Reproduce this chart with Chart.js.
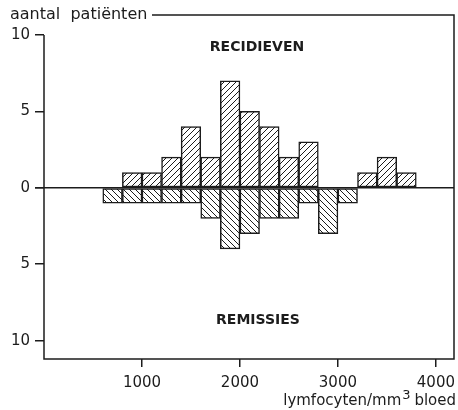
<!DOCTYPE html>
<html>
<head>
<meta charset="utf-8">
<script src="https://cdn.jsdelivr.net/npm/chart.js@4"></script>
<style>
  body { margin: 0; background: #fff; }
  #wrap { width: 458px; height: 410px; }
</style>
</head>
<body>
<div id="wrap"><canvas id="histChart" width="458" height="410"></canvas></div>
<script>
// bin centres (lymfocyten/mm3), bins 200 wide from 600 to 3800
const binCenters = [700, 900, 1100, 1300, 1500, 1700, 1900, 2100, 2300, 2500, 2700, 2900, 3100, 3300, 3500, 3700];
const recidieven = [0, 1, 1, 2, 4, 2, 7, 5, 4, 2, 3, 0, 0, 1, 2, 1];
const remissies  = [1, 1, 1, 1, 1, 2, 4, 3, 2, 2, 1, 3, 1, 0, 0, 0];
const yTicks = [-10, -5, 0, 5, 10];
const xTicks = [1000, 2000, 3000, 4000];

const ink = '#1c1c1c';
const font = 'DejaVu Sans';

function hatch(dir) {
    const s = 6;
    const c = document.createElement('canvas');
    c.width = s; c.height = s;
    const g = c.getContext('2d');
    g.fillStyle = '#fff';
    g.fillRect(0, 0, s, s);
    g.strokeStyle = ink;
    g.lineWidth = 1;
    g.beginPath();
    if (dir > 0) {
        g.moveTo(0, s); g.lineTo(s, 0);
        g.moveTo(-1, 1); g.lineTo(1, -1);
        g.moveTo(s - 1, s + 1); g.lineTo(s + 1, s - 1);
    } else {
        g.moveTo(0, 0); g.lineTo(s, s);
        g.moveTo(-1, s - 1); g.lineTo(1, s + 1);
        g.moveTo(s - 1, -1); g.lineTo(s + 1, 1);
    }
    g.stroke();
    return g.createPattern(c, 'repeat');
}

const upPoints = [];
const downPoints = [];
for (let i = 0; i < binCenters.length; i++) {
    if (recidieven[i] > 0) upPoints.push({ x: binCenters[i], y: recidieven[i] });
    if (remissies[i] > 0) downPoints.push({ x: binCenters[i], y: -remissies[i] });
}

const frame = {
    id: 'frame',
    afterDatasetsDraw(chart) {
        const ctx = chart.ctx;
        const a = chart.chartArea;
        const ys = chart.scales.y;
        ctx.save();
        ctx.strokeStyle = ink;
        ctx.lineWidth = 1.5;
        // zero line
        const y0 = ys.getPixelForValue(0);
        ctx.beginPath();
        ctx.moveTo(a.left - 9, y0);
        ctx.lineTo(a.right, y0);
        ctx.stroke();
        // box: left axis starts at 10, top line starts after the label
        ctx.beginPath();
        ctx.moveTo(a.left, ys.getPixelForValue(10));
        ctx.lineTo(a.left, a.bottom);
        ctx.lineTo(a.right, a.bottom);
        ctx.lineTo(a.right, a.top);
        ctx.lineTo(152, a.top);
        ctx.stroke();

        ctx.fillStyle = ink;
        ctx.textBaseline = 'alphabetic';
        ctx.textAlign = 'left';
        ctx.font = '16px "' + font + '"';
        ctx.fillText('aantal  patiënten', 10, 19);

        ctx.textAlign = 'center';
        ctx.textBaseline = 'middle';
        ctx.font = 'bold 14px "' + font + '"';
        ctx.fillText('RECIDIEVEN', 257, 47);
        ctx.fillText('REMISSIES', 258, 320);

        // x axis title with superscript
        ctx.textBaseline = 'alphabetic';
        ctx.textAlign = 'left';
        ctx.font = '15px "' + font + '"';
        const t1 = 'lymfocyten/mm';
        const t3 = ' bloed';
        const w1 = ctx.measureText(t1).width;
        const w3 = ctx.measureText(t3).width;
        ctx.font = '13px "' + font + '"';
        const w2 = ctx.measureText('3').width;
        const xEnd = 456;
        const xStart = xEnd - w1 - w2 - w3;
        ctx.font = '15px "' + font + '"';
        ctx.fillText(t1, xStart, 405);
        ctx.fillText(t3, xStart + w1 + w2, 405);
        ctx.font = '13px "' + font + '"';
        ctx.fillText('3', xStart + w1 + 1, 399);
        ctx.restore();
    }
};

new Chart(document.getElementById('histChart').getContext('2d'), {
    type: 'bar',
    data: {
        datasets: [
            {
                label: 'Recidieven',
                data: upPoints,
                backgroundColor: hatch(1),
                borderColor: ink,
                borderWidth: 1.5,
                borderSkipped: false
            },
            {
                label: 'Remissies',
                data: downPoints,
                backgroundColor: hatch(-1),
                borderColor: ink,
                borderWidth: 1.5,
                borderSkipped: false
            }
        ]
    },
    options: {
        responsive: false,
        animation: false,
        grouped: false,
        barPercentage: 1,
        categoryPercentage: 1,
        layout: { padding: { top: 15, right: 0, left: 0, bottom: 0 } },
        plugins: {
            legend: { display: false },
            tooltip: { enabled: false }
        },
        scales: {
            x: {
                type: 'linear',
                offset: false,
                min: 0,
                max: 4185,
                afterBuildTicks: (s) => { s.ticks = xTicks.map(v => ({ value: v })); },
                afterFit: (s) => { s.height = 51; s.paddingRight = 4; },
                grid: {
                    offset: false,
                    drawOnChartArea: false,
                    drawTicks: true,
                    tickLength: 8,
                    color: ink,
                    lineWidth: 1.5
                },
                border: { display: false },
                ticks: {
                    color: ink,
                    padding: 7,
                    maxRotation: 0,
                    callback: (v) => String(v),
                    font: { family: font, size: 15 }
                }
            },
            y: {
                min: -11.2,
                max: 11.3,
                afterBuildTicks: (s) => { s.ticks = yTicks.map(v => ({ value: v })); },
                afterFit: (s) => { s.width = 44; },
                grid: {
                    drawOnChartArea: false,
                    drawTicks: true,
                    tickLength: 9,
                    color: ink,
                    lineWidth: 1.5
                },
                border: { display: false },
                ticks: {
                    color: ink,
                    padding: 5,
                    callback: (v) => Math.abs(v),
                    font: { family: font, size: 15 }
                }
            }
        }
    },
    plugins: [frame]
});
</script>
</body>
</html>
